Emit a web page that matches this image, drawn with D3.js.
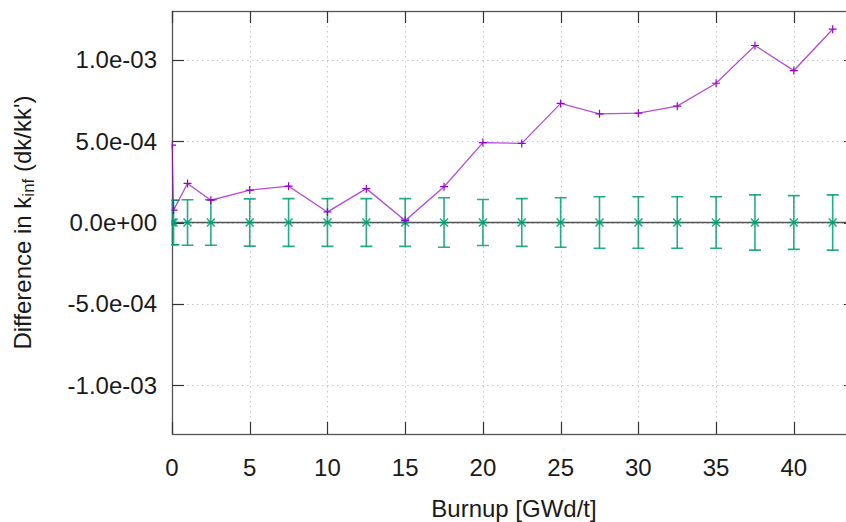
<!DOCTYPE html>
<html>
<head>
<meta charset="utf-8">
<script src="https://cdn.jsdelivr.net/npm/d3@7"></script>
<style>
  body { margin: 0; background: #fff; }
  svg { display: block; font-family: "Liberation Sans", Arial, sans-serif; }
  .tick-label { font-size: 24px; fill: #1a1a1a; }
  .axis-title { font-size: 24px; fill: #1a1a1a; }
</style>
</head>
<body>
<div id="root"></div>
<script>
'use strict';

// difference in k-inf vs burnup (purple), reference zero with 1-sigma bars (green)
var burnup = [0, 0.1, 1, 2.5, 5, 7.5, 10, 12.5, 15, 17.5, 20, 22.5, 25, 27.5, 30, 32.5, 35, 37.5, 40, 42.5];
var diffKinf = [4.75e-4, 7.6e-5, 2.4e-4, 1.37e-4, 1.99e-4, 2.23e-4, 6.5e-5, 2.08e-4, 1.2e-5, 2.2e-4,
                4.91e-4, 4.86e-4, 7.32e-4, 6.68e-4, 6.72e-4, 7.15e-4, 8.56e-4, 1.088e-3, 9.34e-4, 1.188e-3];
var refValue = [0, 0, 0, 0, 0, 0, 0, 0, 0, 0, 0, 0, 0, 0, 0, 0, 0, 0, 0, 0];
var refSigma = [1.37e-4, 1.37e-4, 1.4e-4, 1.4e-4, 1.45e-4, 1.47e-4, 1.47e-4, 1.47e-4, 1.47e-4, 1.52e-4,
                1.41e-4, 1.47e-4, 1.52e-4, 1.58e-4, 1.58e-4, 1.58e-4, 1.58e-4, 1.7e-4, 1.65e-4, 1.7e-4];

var xTicks = [0, 5, 10, 15, 20, 25, 30, 35, 40];
var yTicks = [-1e-3, -5e-4, 0, 5e-4, 1e-3];
var yTickLabels = ['-1.0e-03', '-5.0e-04', '0.0e+00', '5.0e-04', '1.0e-03'];

var W = 846, H = 522;
var pLeft = 172, pRight = 856, pTop = 11, pBottom = 434;

var x = d3.scaleLinear().domain([0, 44]).range([pLeft, pRight]);
var y = d3.scaleLinear().domain([-1.3e-3, 1.3e-3]).range([pBottom, pTop]);

var svg = d3.select('#root').append('svg').attr('width', W).attr('height', H);

svg.append('clipPath').attr('id', 'plot-clip')
  .append('rect').attr('x', pLeft - 0.5).attr('y', pTop).attr('width', pRight - pLeft).attr('height', pBottom - pTop);

// grid (dotted)
var grid = svg.append('g').attr('stroke', '#c8c8c8').attr('stroke-width', 1).attr('stroke-dasharray', '1.5,3.5');
grid.selectAll('line.gx').data(xTicks.filter(function (d) { return d > 0; })).enter().append('line')
  .attr('x1', function (d) { return Math.round(x(d)) + 0.5; })
  .attr('x2', function (d) { return Math.round(x(d)) + 0.5; })
  .attr('y1', pTop).attr('y2', pBottom);
grid.selectAll('line.gy').data(yTicks).enter().append('line')
  .attr('y1', function (d) { return Math.round(y(d)) + 0.5; })
  .attr('y2', function (d) { return Math.round(y(d)) + 0.5; })
  .attr('x1', pLeft).attr('x2', pRight);

// zero axis
svg.append('line')
  .attr('x1', pLeft).attr('x2', pRight)
  .attr('y1', y(0)).attr('y2', y(0))
  .attr('stroke', '#555').attr('stroke-width', 1.6);

// border
svg.append('rect')
  .attr('x', pLeft + 0.5).attr('y', pTop + 0.5)
  .attr('width', pRight - pLeft).attr('height', pBottom - pTop)
  .attr('fill', 'none').attr('stroke', '#555').attr('stroke-width', 1.3);

// ticks
var ticks = svg.append('g').attr('stroke', '#333').attr('stroke-width', 1.2);
xTicks.forEach(function (d) {
  var px = Math.round(x(d)) + 0.5;
  ticks.append('line').attr('x1', px).attr('x2', px).attr('y1', pBottom).attr('y2', pBottom - 12);
  ticks.append('line').attr('x1', px).attr('x2', px).attr('y1', pTop).attr('y2', pTop + 12);
});
yTicks.forEach(function (d) {
  var py = Math.round(y(d)) + 0.5;
  ticks.append('line').attr('x1', pLeft).attr('x2', pLeft + 12).attr('y1', py).attr('y2', py);
  ticks.append('line').attr('x1', pRight).attr('x2', pRight - 12).attr('y1', py).attr('y2', py);
});

var plot = svg.append('g').attr('clip-path', 'url(#plot-clip)');

// reference error bars
var green = '#009e73';
var eb = plot.append('g').attr('stroke', green).attr('stroke-width', 1.6).attr('stroke-opacity', 0.85);
burnup.forEach(function (b, i) {
  var cx = x(b), y1 = y(refValue[i] + refSigma[i]), y0 = y(refValue[i] - refSigma[i]);
  eb.append('line').attr('x1', cx).attr('x2', cx).attr('y1', y1).attr('y2', y0);
  eb.append('line').attr('x1', cx - 6).attr('x2', cx + 6).attr('y1', y1).attr('y2', y1);
  eb.append('line').attr('x1', cx - 6).attr('x2', cx + 6).attr('y1', y0).attr('y2', y0);
  var cy = y(refValue[i]);
  eb.append('path')
    .attr('d', 'M' + (cx - 4) + ',' + (cy - 4) + 'L' + (cx + 4) + ',' + (cy + 4) +
               'M' + (cx - 4) + ',' + (cy + 4) + 'L' + (cx + 4) + ',' + (cy - 4) +
               'M' + (cx - 4) + ',' + cy + 'L' + (cx + 4) + ',' + cy);
});

// difference line
var purple = '#9400d3';
var line = d3.line()
  .x(function (d, i) { return x(burnup[i]); })
  .y(function (d) { return y(d); });
plot.append('path').datum(diffKinf)
  .attr('d', line)
  .attr('fill', 'none')
  .attr('stroke', purple).attr('stroke-width', 1.3).attr('stroke-opacity', 0.7);
plot.selectAll('path.plus').data(diffKinf).enter().append('path')
  .attr('class', 'plus')
  .attr('d', function (d, i) {
    var cx = x(burnup[i]), cy = y(d);
    return 'M' + (cx - 4) + ',' + cy + 'L' + (cx + 4) + ',' + cy + 'M' + cx + ',' + (cy - 4) + 'L' + cx + ',' + (cy + 4);
  })
  .attr('stroke', purple).attr('stroke-width', 1.2);

// tick labels
svg.selectAll('text.xl').data(xTicks).enter().append('text')
  .attr('class', 'tick-label')
  .attr('x', function (d) { return x(d); })
  .attr('y', 467)
  .attr('text-anchor', 'middle')
  .attr('dominant-baseline', 'central')
  .text(function (d) { return d; });

svg.selectAll('text.yl').data(yTicks).enter().append('text')
  .attr('class', 'tick-label')
  .attr('x', 157)
  .attr('y', function (d) { return y(d); })
  .attr('text-anchor', 'end')
  .attr('dominant-baseline', 'central')
  .text(function (d, i) { return yTickLabels[i]; });

// axis titles
svg.append('text')
  .attr('class', 'axis-title')
  .attr('x', (pLeft + pRight) / 2)
  .attr('y', 508)
  .attr('text-anchor', 'middle')
  .attr('dominant-baseline', 'central')
  .text('Burnup [GWd/t]');

var yt = svg.append('text')
  .attr('class', 'axis-title')
  .attr('transform', 'translate(22,' + ((pTop + pBottom) / 2) + ') rotate(-90)')
  .attr('text-anchor', 'middle')
  .attr('dominant-baseline', 'central');
yt.append('tspan').text('Difference in k');
yt.append('tspan').attr('font-size', '17px').attr('dy', 6).text('inf');
yt.append('tspan').attr('dy', -6).text(' (dk/kk\')');
</script>
</body>
</html>
